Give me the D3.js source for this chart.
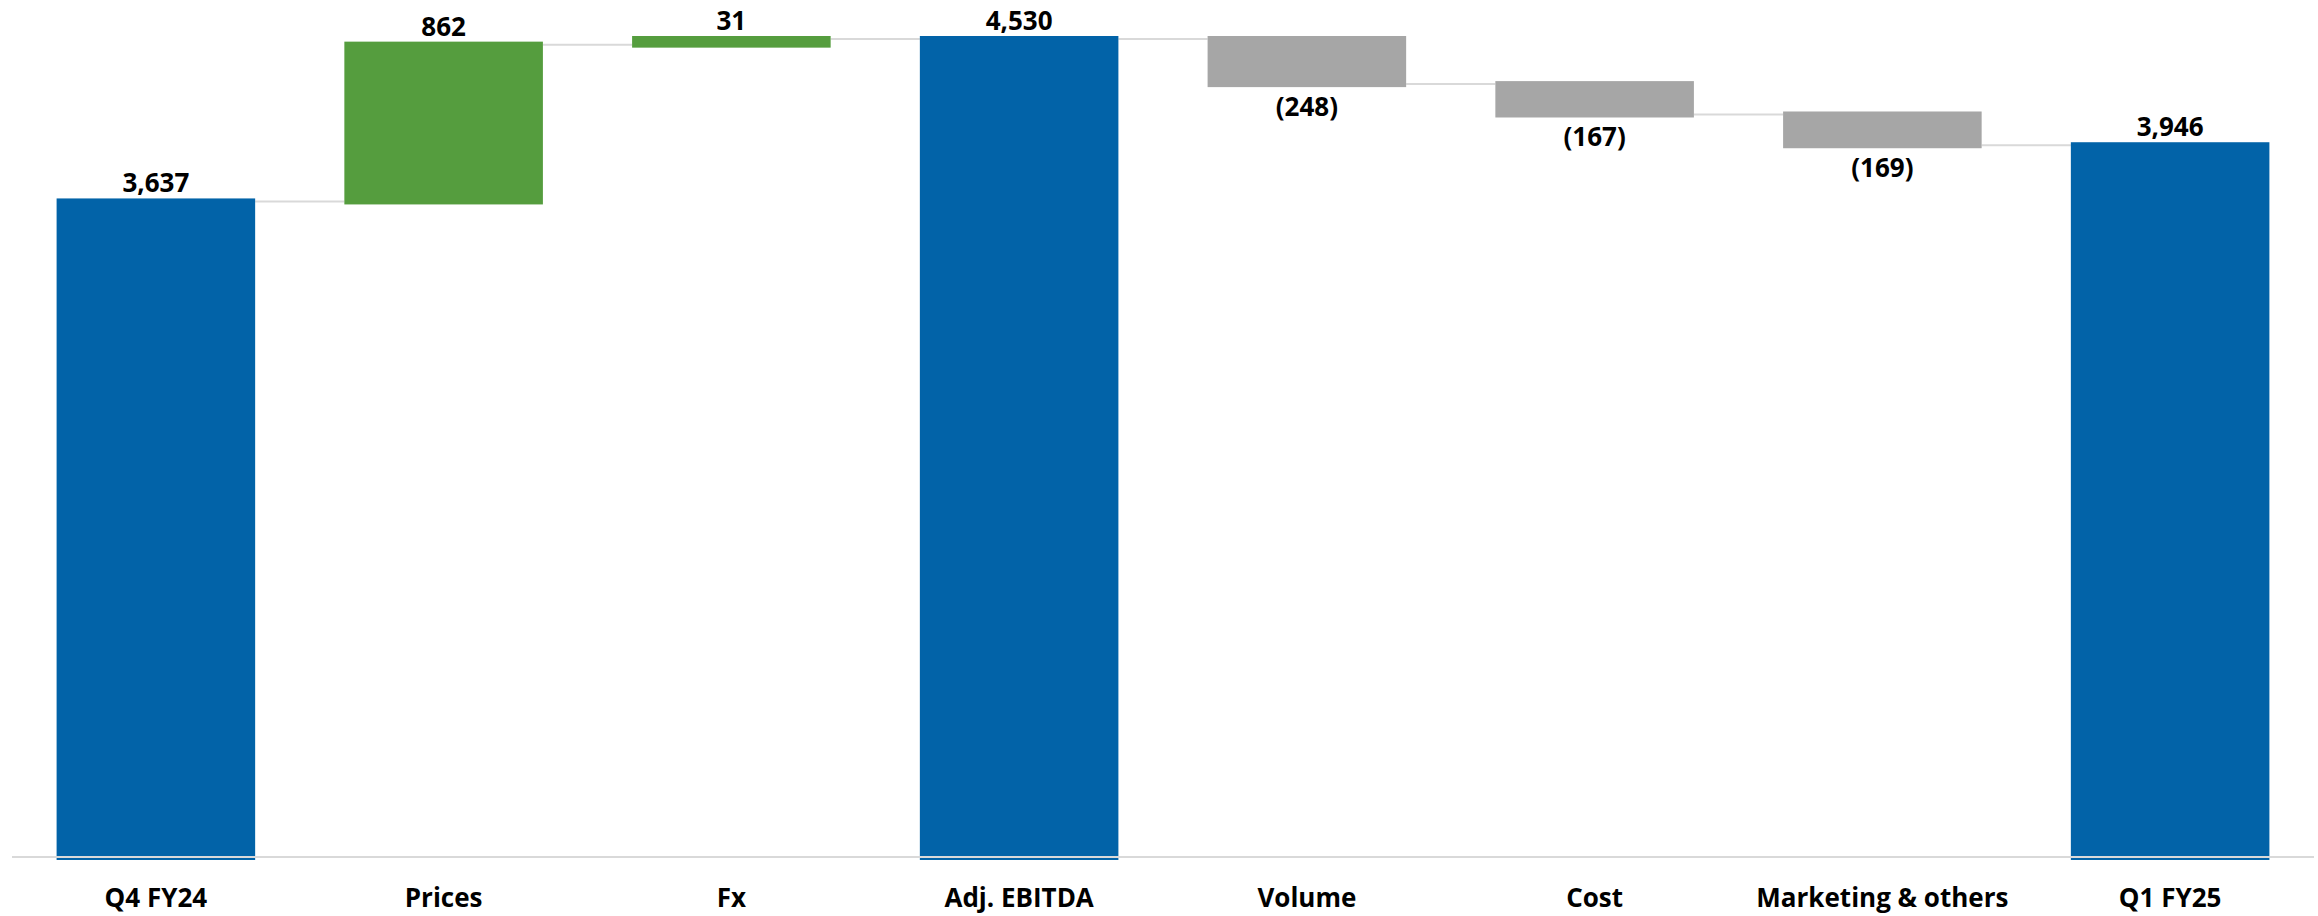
<!DOCTYPE html>
<html>
<head>
<meta charset="utf-8">
<script src="https://cdn.jsdelivr.net/npm/d3@7"></script>
<style>
  html, body { margin: 0; padding: 0; background: #fff; }
  svg text { font-family: "Open Sans", sans-serif; font-weight: 700; fill: #000; }
</style>
</head>
<body>
<div id="chart"></div>
<script>
const categories = ['Q4 FY24', 'Prices', 'Fx', 'Adj. EBITDA', 'Volume', 'Cost', 'Marketing & others', 'Q1 FY25']
const changes = [3637, 862, 31, 0, -248, -167, -169, 0]
const kinds = ['total', 'up', 'up', 'total', 'down', 'down', 'down', 'total']

const colors = { total: '#0263a8', up: '#559d3e', down: '#a6a6a6' }

const width = 2318
const height = 916
// floating bars in the original are drawn a few px taller than their value
const floatPad = 6

// running totals -> start / end for each bar
let running = 0
const bars = categories.map((name, i) => {
  let start, end
  if (kinds[i] === 'total') {
    if (i === 0) running = changes[i]
    start = 0
    end = running
  } else {
    start = running
    running += changes[i]
    end = running
  }
  return { name, kind: kinds[i], start, end, delta: kinds[i] === 'total' ? end : changes[i] }
})

const svg = d3.select('#chart').append('svg')
  .attr('width', width)
  .attr('height', height)

const x = d3.scaleBand()
  .domain(categories)
  .range([12, 2314])
  .paddingInner(0.31)
  .paddingOuter(0.155)

const y = d3.scaleLinear()
  .domain([0, 4530])
  .range([860, 36])

const barTop = d => y(Math.max(d.start, d.end))
const barBottom = d => y(Math.min(d.start, d.end)) + (d.kind === 'total' ? 0 : floatPad)

// connectors between bars
svg.append('g').selectAll('line')
  .data(bars.slice(0, -1))
  .enter().append('line')
  .attr('x1', d => x(d.name) + x.bandwidth())
  .attr('x2', (d, i) => x(bars[i + 1].name))
  .attr('y1', d => y(d.end) + floatPad / 2)
  .attr('y2', d => y(d.end) + floatPad / 2)
  .attr('stroke', '#d9d9d9')
  .attr('stroke-width', 2)

// bars
svg.append('g').selectAll('rect')
  .data(bars)
  .enter().append('rect')
  .attr('x', d => x(d.name))
  .attr('width', x.bandwidth())
  .attr('y', barTop)
  .attr('height', d => barBottom(d) - barTop(d))
  .attr('fill', d => colors[d.kind])

// x axis
const axis = svg.append('g')
  .attr('transform', 'translate(0,857)')
  .call(d3.axisBottom(x).tickSize(0).tickPadding(50))

axis.select('.domain')
  .attr('d', 'M12,0H2314')
  .attr('stroke', '#d9d9d9')
  .attr('stroke-width', 2)

axis.selectAll('text')
  .attr('font-size', 26)
  .attr('font-family', '"Open Sans", sans-serif')
  .attr('font-weight', 700)
  .attr('dy', 0)
  .attr('fill', '#000')

// value labels
const fmt = d3.format(',')
svg.append('g').selectAll('text')
  .data(bars)
  .enter().append('text')
  .attr('x', d => x(d.name) + x.bandwidth() / 2)
  .attr('y', d => d.kind === 'down' ? barBottom(d) + 29 : barTop(d) - 6)
  .attr('text-anchor', 'middle')
  .attr('font-size', 26)
  .text(d => d.delta < 0 ? '(' + fmt(-d.delta) + ')' : fmt(d.delta))
</script>
</body>
</html>
